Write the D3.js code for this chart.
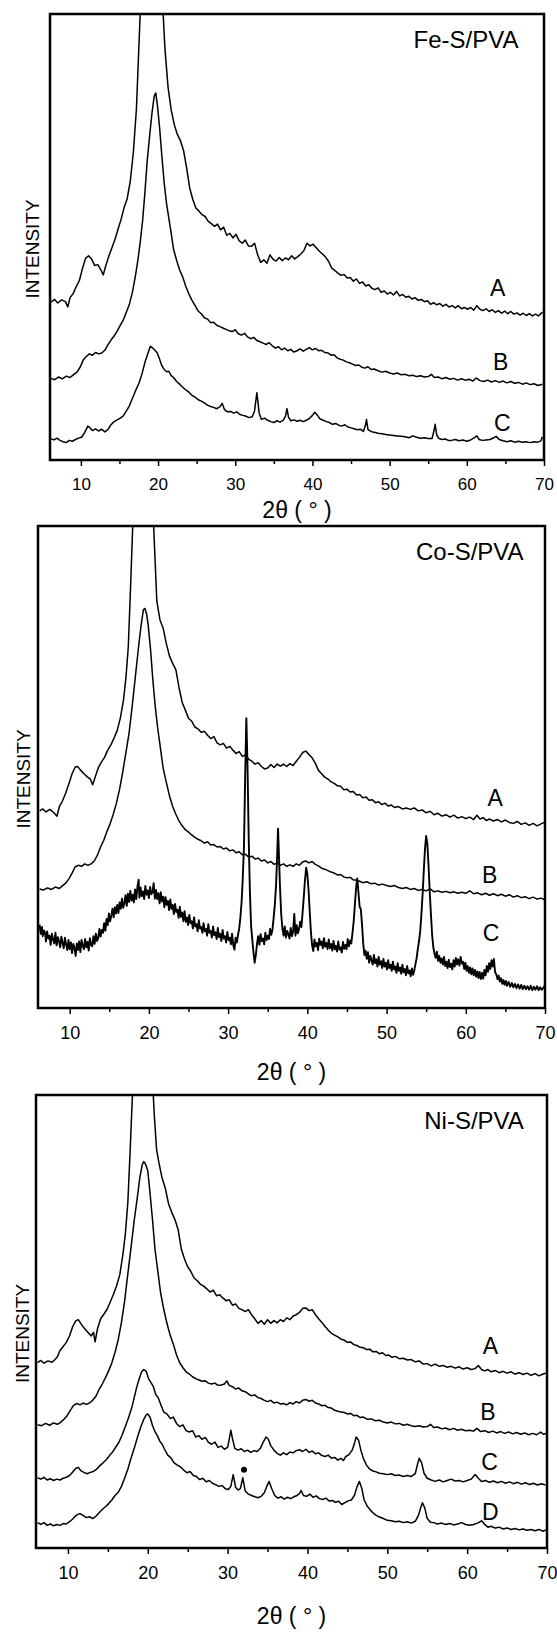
<!DOCTYPE html>
<html><head><meta charset="utf-8">
<script src="https://cdn.jsdelivr.net/npm/d3@7"></script>
<style>
html,body{margin:0;padding:0;background:#fff;}
svg{display:block;}
text{font-family:"Liberation Sans",Arial,sans-serif;fill:#000;}
</style></head>
<body>
<svg id="chart" width="557" height="1638"></svg>
<script>
// ---------- data (x = 2θ in degrees, y = intensity in % of frame height) ----------
const xTicks = [10, 20, 30, 40, 50, 60, 70];
const xMinorTicks = [15, 25, 35, 45, 55, 65];
const panelTitles = ["Fe-S/PVA", "Co-S/PVA", "Ni-S/PVA"];
const titleRightAt = [66.7, 67.3, 67.1]; // 2θ where each title ends
const xAxisLabel = "2θ ( ° )";
const yAxisLabel = "INTENSITY";

const feA = [[6.1,35.4],[6.6,36.0],[7.0,35.2],[7.5,35.9],[8.0,35.5],[8.3,34.3],[8.6,36.4],[9.0,37.3],[9.4,38.9],[9.8,40.2],[10.2,42.9],[10.6,45.2],[11.0,45.8],[11.4,45.0],[11.8,43.6],[12.2,43.8],[12.6,42.6],[12.9,41.5],[13.2,43.4],[13.6,45.6],[14.0,47.5],[14.4,49.4],[14.8,51.7],[15.2,53.9],[15.6,56.6],[16.0,58.6],[16.4,62.5],[16.8,69.0],[17.2,78.8],[17.5,92],[17.8,105],[18.3,118],[19.0,126],[19.6,127],[20.2,118],[20.6,102],[20.9,92],[21.3,83.5],[21.7,78.5],[22.1,75.2],[22.5,73.0],[22.9,71.6],[23.3,69.4],[23.7,65.5],[24.1,61.0],[24.5,58.4],[24.9,56.5],[25.3,55.8],[25.7,55.0],[26.1,54.6],[26.5,53.5],[26.9,53.0],[27.3,52.4],[27.7,52.9],[28.1,51.6],[28.5,52.2],[28.9,50.4],[29.3,50.8],[29.7,49.8],[30.1,50.6],[30.5,49.2],[30.9,48.6],[31.3,49.3],[31.7,48.0],[32.1,47.9],[32.5,48.6],[32.9,46.0],[33.3,44.3],[33.7,44.9],[34.1,44.1],[34.5,46.0],[34.9,45.0],[35.3,44.6],[35.7,45.4],[36.1,44.7],[36.5,45.3],[36.9,44.9],[37.3,45.8],[37.7,45.1],[38.1,45.6],[38.5,46.2],[38.9,47.0],[39.3,48.6],[39.7,48.0],[40.1,48.4],[40.5,47.6],[40.9,46.8],[41.3,46.2],[41.7,45.5],[42.1,44.5],[42.5,43.0],[42.9,42.5],[43.3,41.9],[43.7,41.4],[44.1,41.6],[44.5,40.8],[44.9,40.9],[45.3,40.1],[45.7,40.6],[46.1,39.6],[46.5,39.9],[46.9,39.0],[47.3,39.3],[47.7,38.5],[48.1,38.2],[48.5,38.6],[48.9,37.6],[49.3,37.9],[49.7,37.2],[50.1,37.6],[50.5,37.0],[50.9,37.8],[51.3,36.8],[51.7,37.1],[52.1,36.5],[52.5,36.7],[52.9,36.1],[53.3,36.4],[53.7,35.8],[54.1,36.0],[54.5,35.5],[54.9,35.7],[55.3,34.9],[55.7,35.3],[56.1,34.8],[56.5,35.1],[56.9,34.5],[57.3,34.9],[57.7,34.3],[58.1,34.6],[58.5,34.1],[58.9,34.6],[59.3,33.9],[59.7,34.2],[60.1,33.8],[60.5,34.2],[60.9,33.6],[61.3,34.6],[61.7,33.8],[62.1,33.5],[62.5,33.9],[62.9,33.3],[63.3,33.7],[63.7,33.1],[64.1,33.5],[64.5,32.9],[64.9,33.4],[65.3,32.8],[65.7,33.3],[66.1,32.7],[66.5,33.0],[66.9,32.5],[67.3,32.9],[67.7,32.4],[68.1,32.8],[68.5,32.3],[68.9,32.7],[69.3,32.3],[69.8,33.2]];
const feB = [[6.1,18.3],[6.6,18.0],[7.1,18.6],[7.6,18.2],[8.1,18.8],[8.6,18.5],[9.1,19.2],[9.5,19.7],[9.9,20.8],[10.3,22.4],[10.7,23.2],[11.1,23.8],[11.5,23.5],[11.9,24.1],[12.3,23.8],[12.7,24.0],[13.1,24.6],[13.5,25.8],[13.9,26.9],[14.3,27.8],[14.7,28.9],[15.1,30.2],[15.5,31.4],[15.9,33.2],[16.3,35.0],[16.7,37.8],[17.1,41.6],[17.4,45.0],[17.7,49.0],[18.0,53.7],[18.3,60.0],[18.6,67.2],[18.9,72.5],[19.2,77.6],[19.5,81.6],[19.7,82.3],[19.9,79.8],[20.2,74.5],[20.5,68.0],[20.8,62.0],[21.1,57.5],[21.4,54.2],[21.7,50.8],[22.0,47.3],[22.4,44.8],[22.8,42.6],[23.2,41.0],[23.6,38.9],[24.0,37.2],[24.4,35.8],[24.8,34.6],[25.2,33.4],[25.6,32.8],[26.0,31.9],[26.4,31.6],[26.8,30.8],[27.2,30.9],[27.6,30.2],[28.0,29.9],[28.4,29.6],[28.8,29.3],[29.2,29.0],[29.6,28.8],[30.0,29.2],[30.4,28.3],[30.8,28.0],[31.2,28.4],[31.6,27.6],[32.0,27.2],[32.4,27.5],[32.8,26.8],[33.2,26.5],[33.6,26.2],[34.0,25.9],[34.4,26.3],[34.8,25.6],[35.2,25.1],[35.6,25.4],[36.0,24.7],[36.4,25.1],[36.8,24.5],[37.2,24.8],[37.6,24.2],[38.0,24.5],[38.4,24.9],[38.8,24.4],[39.2,24.8],[39.6,25.2],[40.0,24.7],[40.4,25.0],[40.8,24.5],[41.2,24.6],[41.6,24.1],[42.0,24.0],[42.4,23.5],[42.8,23.6],[43.2,22.9],[43.6,22.6],[44.0,22.4],[44.4,22.0],[44.8,21.8],[45.2,21.5],[45.6,21.2],[46.0,21.3],[46.4,20.8],[46.8,20.6],[47.2,20.9],[47.6,20.3],[48.0,20.4],[48.5,20.0],[49.0,19.7],[49.5,19.9],[50.0,19.5],[50.5,19.3],[51.0,19.5],[51.5,19.1],[52.0,19.2],[52.5,18.9],[53.0,19.0],[53.5,18.7],[54.0,18.9],[54.5,18.6],[55.0,18.7],[55.4,19.2],[55.8,18.5],[56.3,18.6],[56.8,18.2],[57.3,18.5],[57.8,18.1],[58.3,18.3],[58.8,17.9],[59.3,18.2],[59.8,17.9],[60.3,18.1],[60.8,17.7],[61.2,18.4],[61.7,17.8],[62.2,17.6],[62.7,17.9],[63.2,17.5],[63.7,17.8],[64.2,17.4],[64.7,17.7],[65.2,17.3],[65.7,17.6],[66.2,17.2],[66.7,17.4],[67.2,17.0],[67.7,17.3],[68.2,16.9],[68.7,17.1],[69.2,16.7],[69.8,17.0]];
const feC = [[6.1,4.8],[6.5,4.5],[6.9,4.9],[7.3,4.4],[7.7,4.1],[8.1,3.9],[8.5,4.4],[8.9,4.2],[9.3,4.6],[9.7,4.9],[10.1,5.1],[10.5,6.2],[10.9,7.6],[11.2,7.2],[11.5,6.6],[11.9,7.0],[12.3,6.5],[12.7,6.9],[13.1,6.3],[13.5,6.8],[13.9,7.9],[14.3,8.6],[14.7,9.0],[15.1,9.4],[15.5,9.9],[15.9,11.0],[16.3,12.2],[16.7,13.9],[17.1,15.6],[17.5,17.1],[17.9,19.2],[18.3,21.9],[18.7,24.0],[19.0,25.5],[19.3,25.1],[19.6,24.6],[19.9,24.0],[20.2,22.6],[20.5,21.1],[20.8,20.3],[21.1,19.8],[21.4,19.9],[21.7,18.9],[22.0,18.5],[22.4,17.6],[22.8,17.0],[23.2,16.3],[23.6,15.7],[24.0,15.2],[24.4,14.5],[24.8,14.1],[25.2,13.5],[25.6,13.2],[26.0,12.8],[26.4,12.3],[26.8,12.0],[27.2,11.8],[27.6,11.5],[28.0,11.9],[28.3,12.7],[28.6,11.3],[29.0,10.8],[29.4,10.9],[29.8,10.5],[30.2,10.8],[30.6,10.2],[31.0,10.0],[31.4,9.8],[31.8,9.5],[32.2,9.7],[32.5,11.0],[32.8,15.1],[33.1,10.5],[33.4,9.1],[33.8,9.4],[34.2,8.9],[34.6,8.6],[35.0,8.4],[35.4,8.8],[35.8,8.5],[36.2,8.9],[36.5,9.8],[36.7,11.5],[36.9,9.6],[37.2,8.8],[37.6,9.0],[38.0,8.7],[38.4,8.9],[38.8,8.6],[39.2,8.9],[39.6,9.3],[40.0,10.0],[40.3,10.7],[40.7,9.9],[41.0,9.2],[41.4,8.9],[41.8,8.6],[42.2,8.4],[42.6,8.0],[43.0,8.2],[43.4,7.8],[43.8,7.6],[44.2,7.9],[44.6,7.4],[45.0,7.2],[45.4,7.0],[45.8,6.8],[46.2,6.9],[46.6,6.4],[46.9,8.0],[47.0,9.1],[47.2,6.8],[47.6,6.4],[48.0,6.2],[48.5,6.0],[49.0,5.9],[49.5,5.7],[50.0,5.6],[50.5,5.5],[51.0,5.4],[51.5,5.3],[52.0,5.2],[52.5,5.0],[53.0,5.4],[53.5,5.1],[54.0,4.9],[54.5,5.0],[55.0,4.8],[55.5,4.8],[55.8,7.0],[55.9,8.0],[56.1,5.6],[56.4,4.8],[56.8,4.6],[57.2,4.7],[57.6,4.4],[58.0,4.4],[58.5,4.6],[59.0,4.3],[59.5,4.5],[60.0,4.2],[60.5,4.5],[61.0,5.0],[61.3,5.4],[61.6,4.6],[62.0,4.4],[62.5,4.5],[63.0,4.6],[63.5,5.0],[63.8,5.3],[64.2,4.6],[64.7,4.3],[65.2,4.1],[65.7,4.3],[66.2,4.0],[66.7,4.2],[67.2,4.0],[67.7,4.1],[68.2,3.9],[68.7,4.1],[69.2,4.0],[69.6,4.3],[69.8,5.2]];

const coA = [[6.2,40.9],[6.6,41.3],[7.0,40.7],[7.5,41.2],[8.0,40.5],[8.4,39.8],[8.7,41.8],[9.1,43.0],[9.5,44.6],[9.9,46.5],[10.3,48.6],[10.7,50.0],[11.0,50.1],[11.4,49.3],[11.8,48.6],[12.2,48.0],[12.6,47.5],[12.9,46.3],[13.2,47.8],[13.6,49.8],[14.0,51.0],[14.4,52.0],[14.8,53.5],[15.2,54.6],[15.6,56.0],[16.0,57.6],[16.4,60.2],[16.8,64.0],[17.1,68.5],[17.4,75.0],[17.7,88],[18.0,102],[18.5,118],[19.2,125],[19.8,124],[20.3,112],[20.7,96],[21.0,84.4],[21.4,80.5],[21.8,78.8],[22.2,75.6],[22.6,73.0],[23.0,71.5],[23.4,70.2],[23.8,66.5],[24.2,63.4],[24.6,61.8],[25.0,60.1],[25.4,59.5],[25.8,58.3],[26.2,57.9],[26.6,57.2],[27.0,57.4],[27.4,56.6],[27.8,55.9],[28.2,56.3],[28.6,55.0],[29.0,54.6],[29.4,54.9],[29.8,53.9],[30.2,54.3],[30.6,53.5],[31.0,52.8],[31.4,53.2],[31.8,52.2],[32.2,52.5],[32.6,51.6],[33.0,51.2],[33.4,50.6],[33.8,50.9],[34.2,50.1],[34.6,49.6],[35.0,49.8],[35.4,50.5],[35.8,49.9],[36.2,50.6],[36.6,50.2],[37.0,50.6],[37.4,50.1],[37.8,50.7],[38.2,50.3],[38.6,51.2],[39.0,52.0],[39.4,53.0],[39.8,53.3],[40.2,52.6],[40.6,51.9],[41.0,50.8],[41.4,49.3],[41.8,48.6],[42.2,47.9],[42.6,47.5],[43.0,46.9],[43.4,46.6],[43.8,46.1],[44.2,46.0],[44.6,45.3],[45.0,45.4],[45.4,44.8],[45.8,44.9],[46.2,44.2],[46.6,44.3],[47.0,43.6],[47.4,43.8],[47.8,43.1],[48.2,43.2],[48.6,42.6],[49.0,42.8],[49.4,42.2],[49.8,42.5],[50.2,41.9],[50.6,42.1],[51.0,41.6],[51.5,41.8],[52.0,41.3],[52.5,41.5],[53.0,41.2],[53.5,41.5],[54.0,40.9],[54.5,41.1],[55.0,40.5],[55.5,40.8],[56.0,40.1],[56.5,40.4],[57.0,39.8],[57.5,40.1],[58.0,39.6],[58.5,40.0],[59.0,39.4],[59.5,39.7],[60.0,39.3],[60.5,39.6],[61.0,39.1],[61.4,40.0],[61.8,39.2],[62.2,39.5],[62.6,38.9],[63.0,39.2],[63.5,38.8],[64.0,39.1],[64.5,38.6],[65.0,39.0],[65.5,38.5],[66.0,38.3],[66.5,38.7],[67.0,38.1],[67.5,38.4],[68.0,37.9],[68.5,38.3],[69.0,37.8],[69.5,38.2],[69.9,38.5]];
const coB = [[6.2,24.7],[6.7,24.5],[7.2,24.9],[7.7,24.6],[8.2,25.1],[8.7,24.8],[9.1,25.4],[9.5,25.9],[9.9,26.8],[10.3,28.0],[10.7,29.3],[11.1,29.6],[11.5,29.4],[11.9,29.9],[12.3,29.6],[12.7,29.9],[13.1,30.5],[13.5,31.7],[13.9,33.4],[14.3,34.8],[14.7,36.6],[15.1,38.2],[15.5,40.2],[15.9,42.5],[16.3,45.4],[16.7,49.0],[17.1,53.0],[17.5,57.1],[17.9,62.8],[18.3,68.9],[18.7,75.0],[19.0,79.2],[19.3,82.6],[19.5,82.9],[19.7,81.8],[19.9,79.6],[20.2,74.5],[20.5,68.0],[20.8,62.5],[21.1,58.2],[21.4,54.6],[21.8,49.7],[22.2,46.8],[22.6,44.0],[23.0,41.8],[23.4,40.2],[23.8,38.8],[24.2,37.8],[24.6,37.0],[25.0,36.5],[25.4,35.9],[25.8,35.4],[26.2,35.0],[26.6,34.7],[27.0,34.2],[27.4,34.5],[27.8,33.8],[28.2,33.9],[28.6,33.4],[29.0,33.5],[29.4,33.0],[29.8,33.2],[30.2,32.6],[30.6,32.8],[31.0,32.2],[31.4,32.4],[31.8,31.8],[32.2,31.9],[32.6,31.3],[33.0,31.5],[33.4,30.9],[33.8,31.1],[34.2,30.5],[34.6,30.7],[35.0,30.1],[35.4,30.4],[35.8,29.8],[36.2,30.1],[36.6,29.6],[37.0,29.9],[37.4,29.4],[37.8,29.7],[38.2,29.4],[38.6,29.9],[39.0,29.6],[39.4,30.3],[39.8,30.5],[40.2,30.1],[40.6,30.4],[41.0,29.8],[41.4,29.5],[41.8,29.0],[42.2,28.8],[42.6,28.5],[43.0,28.2],[43.4,28.0],[43.8,27.6],[44.2,27.7],[44.6,27.2],[45.0,27.0],[45.4,27.1],[45.8,26.6],[46.2,26.5],[46.6,26.3],[47.0,26.0],[47.5,26.2],[48.0,25.8],[48.5,25.9],[49.0,25.5],[49.5,25.7],[50.0,25.4],[50.5,25.2],[51.0,25.4],[51.5,25.0],[52.0,24.8],[52.5,25.0],[53.0,24.6],[53.5,24.8],[54.0,24.4],[54.5,24.6],[55.0,24.3],[55.5,24.7],[56.0,24.1],[56.5,24.3],[57.0,24.0],[57.5,24.2],[58.0,23.9],[58.5,24.1],[59.0,23.8],[59.5,24.0],[60.0,23.8],[60.5,24.3],[61.0,23.7],[61.5,23.9],[62.0,23.5],[62.5,23.8],[63.0,23.4],[63.5,23.7],[64.0,23.3],[64.5,23.6],[65.0,23.2],[65.5,23.5],[66.0,23.0],[66.5,23.3],[67.0,22.9],[67.5,23.1],[68.0,22.7],[68.5,23.0],[69.0,22.6],[69.5,22.8],[69.9,22.5]];
const coC = [[6.2,17.3],[6.35,15.4],[6.5,16.8],[6.6,14.9],[6.75,16.1],[6.9,15.5],[7.0,13.8],[7.15,15.9],[7.3,14.4],[7.45,15.0],[7.6,13.1],[7.75,15.4],[7.9,14.2],[8.05,13.4],[8.2,15.6],[8.35,13.0],[8.5,14.7],[8.65,13.9],[8.8,12.6],[8.95,14.8],[9.1,13.5],[9.25,12.4],[9.4,14.6],[9.55,13.2],[9.7,12.0],[9.85,14.1],[10.0,12.2],[10.15,13.6],[10.3,11.4],[10.45,13.3],[10.6,12.5],[10.75,10.8],[10.9,13.4],[11.05,12.0],[11.2,13.8],[11.35,11.6],[11.5,14.1],[11.65,12.9],[11.8,12.2],[11.95,14.3],[12.1,12.6],[12.25,13.7],[12.4,11.9],[12.55,14.5],[12.7,13.1],[12.85,12.8],[13.0,14.9],[13.15,13.3],[13.3,15.4],[13.45,13.9],[13.6,14.5],[13.75,16.4],[13.9,14.8],[14.05,16.2],[14.2,15.6],[14.35,17.6],[14.5,16.0],[14.65,18.5],[14.8,17.2],[14.95,19.6],[15.1,18.0],[15.25,19.1],[15.4,20.6],[15.55,18.8],[15.7,20.9],[15.85,19.6],[16.0,21.4],[16.15,19.7],[16.3,21.9],[16.45,20.6],[16.6,22.7],[16.75,20.8],[16.9,21.8],[17.05,23.4],[17.2,21.2],[17.35,23.7],[17.5,22.0],[17.65,24.3],[17.8,22.3],[17.95,23.5],[18.1,21.9],[18.25,24.6],[18.4,22.6],[18.55,25.1],[18.7,26.6],[18.8,22.9],[18.95,25.0],[19.1,23.2],[19.25,24.2],[19.4,22.6],[19.55,25.3],[19.7,23.5],[19.85,24.4],[20.0,22.8],[20.15,25.1],[20.3,23.6],[20.45,24.0],[20.6,25.9],[20.75,22.7],[20.9,24.5],[21.05,22.6],[21.2,23.8],[21.35,21.7],[21.5,24.0],[21.65,22.1],[21.8,23.1],[21.95,20.9],[22.1,23.0],[22.25,21.4],[22.4,22.2],[22.55,20.3],[22.7,22.5],[22.85,20.6],[23.0,21.4],[23.15,19.5],[23.3,21.6],[23.45,19.9],[23.6,20.4],[23.75,18.7],[23.9,21.0],[24.05,18.9],[24.2,19.8],[24.35,18.0],[24.5,20.1],[24.65,17.9],[24.8,18.8],[24.95,17.2],[25.1,19.3],[25.25,17.6],[25.4,18.0],[25.55,16.5],[25.7,18.8],[25.85,16.9],[26.0,17.4],[26.15,15.9],[26.3,18.2],[26.45,16.5],[26.6,16.8],[26.75,15.6],[26.9,17.6],[27.05,15.9],[27.2,16.4],[27.35,15.0],[27.5,17.4],[27.65,15.6],[27.8,16.0],[27.95,14.6],[28.1,16.9],[28.25,15.1],[28.4,15.7],[28.55,14.3],[28.7,16.6],[28.85,14.7],[29.0,15.4],[29.15,13.9],[29.3,16.2],[29.45,14.4],[29.6,14.9],[29.75,13.6],[29.9,15.8],[30.05,14.1],[30.2,14.6],[30.35,13.2],[30.5,15.4],[30.65,13.0],[30.8,12.1],[30.95,14.6],[31.1,13.6],[31.25,15.2],[31.4,16.5],[31.55,18.8],[31.7,22.0],[31.85,27.0],[32.0,33.5],[32.15,48.0],[32.3,60.1],[32.45,50.0],[32.6,35.0],[32.75,24.0],[32.9,17.0],[33.05,14.2],[33.2,11.6],[33.35,9.4],[33.5,11.0],[33.65,13.4],[33.8,14.9],[33.95,13.1],[34.1,15.3],[34.25,13.9],[34.4,14.4],[34.55,13.2],[34.7,15.6],[34.85,14.1],[35.0,15.0],[35.15,14.3],[35.3,16.4],[35.45,15.2],[35.6,16.3],[35.75,18.8],[35.9,21.5],[36.05,25.5],[36.2,32.0],[36.3,37.2],[36.4,32.5],[36.55,25.0],[36.7,19.5],[36.85,16.5],[37.0,15.0],[37.15,16.9],[37.3,14.6],[37.45,16.0],[37.6,15.3],[37.75,14.4],[37.9,16.6],[38.05,14.9],[38.2,15.8],[38.35,19.5],[38.5,15.0],[38.65,17.2],[38.8,15.5],[38.95,16.4],[39.1,17.9],[39.25,16.8],[39.4,19.8],[39.55,23.0],[39.7,26.5],[39.85,29.1],[40.0,27.8],[40.15,24.5],[40.3,20.0],[40.45,15.8],[40.6,13.0],[40.75,11.8],[40.9,14.2],[41.05,12.8],[41.2,13.5],[41.35,12.0],[41.5,14.4],[41.65,13.1],[41.8,13.8],[41.95,12.4],[42.1,14.5],[42.25,12.7],[42.4,13.5],[42.55,12.2],[42.7,14.2],[42.85,12.4],[43.0,13.3],[43.15,11.9],[43.3,13.9],[43.45,12.2],[43.6,12.9],[43.75,11.7],[43.9,13.8],[44.05,12.1],[44.2,12.6],[44.35,11.5],[44.5,13.7],[44.65,12.3],[44.8,13.1],[44.95,12.2],[45.1,14.3],[45.25,12.8],[45.4,14.0],[45.55,13.4],[45.7,15.6],[45.85,17.9],[46.0,21.5],[46.15,24.8],[46.3,26.9],[46.45,24.0],[46.6,21.0],[46.75,20.5],[46.9,17.4],[47.05,13.5],[47.2,11.0],[47.35,11.9],[47.5,10.2],[47.65,11.6],[47.8,9.4],[47.95,10.8],[48.1,9.9],[48.25,9.0],[48.4,11.0],[48.55,9.3],[48.7,10.1],[48.85,8.6],[49.0,10.6],[49.15,9.0],[49.3,9.7],[49.45,8.3],[49.6,10.2],[49.75,8.6],[49.9,9.4],[50.05,8.0],[50.2,9.9],[50.35,8.3],[50.5,9.0],[50.65,7.7],[50.8,9.6],[50.95,8.0],[51.1,8.6],[51.25,7.3],[51.4,9.3],[51.55,7.7],[51.7,8.4],[51.85,7.1],[52.0,9.0],[52.15,7.4],[52.3,8.1],[52.45,6.8],[52.6,8.7],[52.75,7.2],[52.9,7.8],[53.05,6.6],[53.2,8.2],[53.35,6.9],[53.5,7.8],[53.65,9.1],[53.8,10.4],[53.95,12.3],[54.1,13.9],[54.25,16.0],[54.4,19.5],[54.55,23.6],[54.7,28.5],[54.85,33.0],[55.0,35.7],[55.15,34.0],[55.3,29.5],[55.45,24.0],[55.6,19.5],[55.75,15.2],[55.9,12.6],[56.05,11.3],[56.2,10.4],[56.35,11.7],[56.5,9.8],[56.65,10.8],[56.8,9.4],[56.95,10.3],[57.1,9.0],[57.25,10.6],[57.4,8.7],[57.55,9.6],[57.7,8.3],[57.85,10.0],[58.0,8.5],[58.15,9.2],[58.3,8.0],[58.45,9.9],[58.6,8.6],[58.75,10.4],[58.9,9.0],[59.05,10.1],[59.2,8.8],[59.35,10.6],[59.5,9.2],[59.65,9.6],[59.8,8.1],[59.95,9.4],[60.1,7.7],[60.25,8.7],[60.4,7.3],[60.55,8.4],[60.7,7.0],[60.85,8.2],[61.0,6.8],[61.15,7.9],[61.3,6.5],[61.45,7.6],[61.6,6.2],[61.75,7.5],[61.9,6.0],[62.05,7.3],[62.2,6.1],[62.35,7.9],[62.5,6.8],[62.65,8.7],[62.8,7.5],[62.95,9.3],[63.1,8.1],[63.25,9.9],[63.4,8.6],[63.55,10.2],[63.7,7.4],[63.85,7.0],[64.0,6.0],[64.15,6.7],[64.3,5.5],[64.45,6.2],[64.6,5.0],[64.75,5.8],[64.9,4.8],[65.05,5.6],[65.2,4.6],[65.4,5.4],[65.6,4.4],[65.8,5.2],[66.0,4.3],[66.2,5.0],[66.4,4.1],[66.6,4.9],[66.8,4.0],[67.0,4.8],[67.2,3.9],[67.4,4.6],[67.6,3.9],[67.8,4.5],[68.0,3.8],[68.2,4.6],[68.4,3.7],[68.6,4.4],[68.8,3.8],[69.0,4.5],[69.2,3.7],[69.4,4.3],[69.6,3.8],[69.8,4.2],[69.95,4.6]];

const niA = [[6.2,40.9],[6.6,41.4],[7.0,40.8],[7.5,41.3],[8.0,41.0],[8.4,41.6],[8.7,42.3],[9.0,43.6],[9.4,44.5],[9.8,45.4],[10.2,46.8],[10.6,48.9],[11.0,50.2],[11.3,50.4],[11.6,49.6],[12.0,48.6],[12.3,48.0],[12.6,47.4],[12.9,46.8],[13.2,47.6],[13.4,45.5],[13.7,48.4],[14.1,50.6],[14.5,51.6],[14.9,52.7],[15.3,54.3],[15.7,56.0],[16.1,57.9],[16.5,60.4],[16.9,65.0],[17.2,69.5],[17.5,76.2],[17.8,88],[18.1,101],[18.6,117],[19.3,125],[19.9,123],[20.4,110],[20.8,96],[21.1,88],[21.4,85.0],[21.8,81.6],[22.2,79.4],[22.6,76.0],[23.0,74.1],[23.4,72.5],[23.8,70.3],[24.2,66.0],[24.6,63.8],[25.0,62.1],[25.4,61.0],[25.8,59.6],[26.2,59.0],[26.6,58.2],[27.0,57.8],[27.4,57.2],[27.8,56.5],[28.2,56.9],[28.6,55.7],[29.0,55.9],[29.4,55.2],[29.8,54.6],[30.2,54.8],[30.6,53.6],[31.0,53.9],[31.4,52.9],[31.8,52.6],[32.2,52.2],[32.6,52.6],[33.0,51.5],[33.4,50.6],[33.8,49.6],[34.2,50.2],[34.6,49.4],[35.0,50.4],[35.4,49.6],[35.8,50.2],[36.2,49.7],[36.6,50.4],[37.0,50.0],[37.4,50.8],[37.8,50.4],[38.2,51.2],[38.6,51.5],[39.0,52.0],[39.4,52.9],[39.8,53.0],[40.2,52.4],[40.6,52.6],[41.0,51.5],[41.4,50.6],[41.8,49.8],[42.2,48.9],[42.6,48.1],[43.0,47.4],[43.4,47.0],[43.8,46.6],[44.2,46.1],[44.6,45.9],[45.0,45.4],[45.4,45.5],[45.8,44.9],[46.2,44.7],[46.6,44.3],[47.0,44.2],[47.4,43.8],[47.8,43.9],[48.2,43.3],[48.6,43.4],[49.0,42.9],[49.4,43.1],[49.8,42.5],[50.2,42.6],[50.6,42.1],[51.0,42.3],[51.5,41.8],[52.0,41.9],[52.5,41.5],[53.0,41.6],[53.5,41.1],[54.0,41.3],[54.5,40.6],[55.0,40.7],[55.5,40.2],[56.0,40.6],[56.5,40.1],[57.0,40.3],[57.5,39.9],[58.0,40.1],[58.5,39.7],[59.0,40.0],[59.5,39.5],[60.0,39.8],[60.5,39.4],[61.0,39.6],[61.4,40.3],[61.8,39.4],[62.2,39.1],[62.6,39.4],[63.0,38.9],[63.5,39.2],[64.0,38.7],[64.5,39.0],[65.0,38.6],[65.5,38.9],[66.0,38.4],[66.5,38.7],[67.0,38.3],[67.5,38.6],[68.0,38.1],[68.5,38.5],[69.0,38.0],[69.5,38.4],[69.9,38.6]];
const niB = [[6.2,27.2],[6.7,27.0],[7.2,27.5],[7.7,27.1],[8.2,27.6],[8.7,27.3],[9.1,27.8],[9.5,28.4],[9.9,29.2],[10.3,30.4],[10.7,31.5],[11.1,31.9],[11.5,31.6],[11.9,32.0],[12.3,31.7],[12.7,32.0],[13.1,32.6],[13.5,33.5],[13.9,35.0],[14.3,36.2],[14.7,37.6],[15.1,39.1],[15.5,40.9],[15.9,43.2],[16.3,46.0],[16.7,49.8],[17.1,54.5],[17.5,60.5],[17.9,66.3],[18.3,72.3],[18.7,77.5],[19.0,81.7],[19.3,84.6],[19.5,85.3],[19.7,84.8],[20.0,83.3],[20.3,78.0],[20.6,72.3],[20.9,66.0],[21.3,60.5],[21.6,56.4],[22.0,52.7],[22.4,49.6],[22.8,47.0],[23.2,45.0],[23.6,42.6],[24.0,40.9],[24.4,39.8],[24.8,38.9],[25.2,38.4],[25.6,37.8],[26.0,37.4],[26.4,37.1],[26.8,36.8],[27.2,36.9],[27.6,36.4],[28.0,36.2],[28.4,36.4],[28.8,35.9],[29.2,36.0],[29.6,36.2],[29.9,36.9],[30.2,35.9],[30.6,35.6],[31.0,35.1],[31.4,35.3],[31.8,34.7],[32.2,34.5],[32.6,34.0],[33.0,33.6],[33.4,33.8],[33.8,33.2],[34.2,33.0],[34.6,32.6],[35.0,32.3],[35.4,32.6],[35.8,32.0],[36.2,32.2],[36.6,31.8],[37.0,31.9],[37.4,31.6],[37.8,32.1],[38.2,31.8],[38.6,32.3],[39.0,32.0],[39.4,32.6],[39.8,32.8],[40.2,32.4],[40.6,32.6],[41.0,32.0],[41.4,31.8],[41.8,31.4],[42.2,31.5],[42.6,31.0],[43.0,30.9],[43.4,30.4],[43.8,30.2],[44.2,30.0],[44.6,29.9],[45.0,29.6],[45.4,29.7],[45.8,29.2],[46.2,29.3],[46.6,28.8],[47.0,28.9],[47.5,28.4],[48.0,28.5],[48.5,28.1],[49.0,28.2],[49.5,27.8],[50.0,27.6],[50.5,27.8],[51.0,27.4],[51.5,27.5],[52.0,27.1],[52.5,27.3],[53.0,27.0],[53.5,26.8],[54.0,27.0],[54.5,26.7],[55.0,26.8],[55.4,27.3],[55.8,26.6],[56.3,26.7],[56.8,26.3],[57.3,26.5],[57.8,26.1],[58.3,26.4],[58.8,26.0],[59.3,26.2],[59.8,25.9],[60.3,26.0],[60.8,25.8],[61.2,26.4],[61.7,25.7],[62.2,25.9],[62.7,25.5],[63.2,25.8],[63.7,25.4],[64.2,25.7],[64.7,25.3],[65.2,25.6],[65.7,25.2],[66.2,25.5],[66.7,25.1],[67.2,25.4],[67.7,25.0],[68.2,25.3],[68.7,25.0],[69.2,25.6],[69.6,25.1],[69.9,25.3]];
const niC = [[6.2,15.5],[6.6,15.2],[7.0,15.6],[7.4,15.0],[7.8,15.3],[8.2,14.9],[8.6,15.2],[9.0,15.0],[9.4,15.4],[9.8,15.6],[10.2,16.0],[10.6,16.8],[11.0,17.6],[11.3,17.8],[11.6,17.1],[12.0,16.7],[12.4,16.4],[12.8,16.7],[13.2,16.9],[13.6,17.4],[14.0,18.2],[14.4,18.8],[14.8,19.5],[15.2,20.4],[15.6,21.2],[16.0,22.3],[16.4,23.4],[16.8,25.0],[17.2,26.9],[17.6,28.8],[18.0,31.0],[18.3,33.2],[18.6,35.4],[18.9,37.2],[19.2,38.8],[19.5,39.4],[19.8,39.0],[20.1,37.4],[20.4,36.5],[20.7,35.6],[21.0,33.9],[21.3,33.2],[21.6,31.8],[22.0,30.0],[22.4,29.6],[22.8,28.6],[23.2,28.9],[23.6,27.5],[24.0,26.8],[24.4,27.2],[24.8,25.9],[25.2,25.6],[25.6,25.9],[26.0,24.5],[26.4,24.8],[26.8,24.0],[27.2,24.4],[27.6,23.3],[28.0,22.9],[28.4,23.4],[28.8,22.2],[29.2,22.5],[29.6,21.8],[30.0,22.2],[30.2,24.0],[30.4,26.0],[30.6,24.2],[30.9,22.0],[31.3,21.6],[31.7,21.9],[32.1,21.3],[32.5,21.6],[32.9,21.1],[33.3,21.5],[33.7,21.3],[34.1,22.0],[34.5,23.5],[34.8,24.5],[35.1,24.0],[35.4,22.6],[35.8,21.6],[36.2,20.9],[36.6,20.5],[37.0,21.0],[37.4,20.6],[37.8,21.2],[38.2,21.0],[38.6,21.5],[39.0,21.7],[39.4,21.3],[39.8,21.8],[40.2,21.1],[40.6,21.4],[41.0,20.8],[41.4,21.0],[41.8,20.4],[42.2,20.2],[42.6,20.5],[43.0,19.8],[43.4,20.0],[43.8,19.4],[44.2,19.8],[44.5,19.3],[44.8,20.2],[45.2,20.6],[45.6,21.6],[45.9,23.2],[46.1,24.5],[46.4,23.8],[46.7,21.5],[47.0,19.8],[47.4,18.3],[47.8,17.4],[48.2,17.0],[48.6,16.8],[49.0,16.5],[49.5,16.4],[50.0,16.2],[50.5,16.4],[51.0,16.0],[51.5,16.1],[52.0,15.8],[52.5,16.0],[53.0,15.8],[53.5,16.4],[53.8,18.6],[54.0,19.8],[54.3,18.8],[54.6,16.5],[55.0,15.4],[55.5,15.0],[56.0,14.7],[56.5,15.0],[57.0,14.6],[57.5,14.9],[58.0,15.2],[58.5,14.8],[59.0,14.9],[59.5,14.6],[60.0,14.9],[60.5,15.2],[61.0,16.2],[61.4,15.4],[61.8,14.7],[62.3,14.9],[62.8,14.5],[63.3,14.8],[63.8,14.4],[64.3,14.7],[64.8,14.3],[65.3,14.6],[65.8,14.2],[66.3,14.5],[66.8,14.1],[67.3,14.4],[67.8,14.0],[68.3,14.3],[68.8,13.9],[69.3,14.2],[69.8,13.9]];
const niD = [[6.2,5.6],[6.6,5.2],[7.0,5.6],[7.4,5.0],[7.8,5.3],[8.2,4.9],[8.6,5.2],[9.0,5.0],[9.4,5.4],[9.8,5.3],[10.2,5.8],[10.6,6.4],[11.0,7.2],[11.5,7.6],[11.9,7.2],[12.3,6.7],[12.7,6.9],[13.1,6.5],[13.5,7.0],[13.9,7.8],[14.3,8.5],[14.7,9.1],[15.1,9.8],[15.5,10.6],[15.9,11.6],[16.3,12.3],[16.7,13.6],[17.1,15.4],[17.5,17.4],[17.9,19.8],[18.3,22.0],[18.7,24.4],[19.1,26.6],[19.5,28.4],[19.8,29.4],[20.0,29.6],[20.3,28.8],[20.6,27.0],[20.9,25.7],[21.2,24.8],[21.5,23.6],[21.8,22.9],[22.1,21.8],[22.5,20.5],[22.9,19.9],[23.3,18.8],[23.7,18.3],[24.1,17.9],[24.5,17.2],[24.9,16.6],[25.3,16.9],[25.7,16.0],[26.1,15.8],[26.5,15.1],[26.9,15.4],[27.3,14.6],[27.7,14.9],[28.1,14.3],[28.5,14.0],[28.9,13.6],[29.3,13.8],[29.7,13.1],[30.1,12.9],[30.4,13.6],[30.7,16.2],[31.0,13.4],[31.3,12.8],[31.6,13.1],[31.9,15.5],[32.2,12.6],[32.6,11.9],[33.0,11.6],[33.4,11.3],[33.8,11.1],[34.2,11.4],[34.6,12.2],[34.9,13.6],[35.2,14.7],[35.5,13.2],[35.9,11.6],[36.3,11.0],[36.7,11.3],[37.1,10.8],[37.5,11.2],[37.9,10.9],[38.3,11.3],[38.7,11.6],[39.0,12.0],[39.2,12.7],[39.5,11.6],[39.9,11.4],[40.3,11.9],[40.7,11.2],[41.1,11.5],[41.5,10.9],[41.9,10.7],[42.3,11.0],[42.7,10.4],[43.1,10.5],[43.5,10.1],[43.9,10.3],[44.3,9.6],[44.7,10.0],[45.1,10.4],[45.5,10.6],[45.9,11.7],[46.2,13.5],[46.5,14.7],[46.8,13.2],[47.1,10.6],[47.5,9.2],[47.9,8.3],[48.3,7.6],[48.7,7.1],[49.1,6.8],[49.5,6.5],[50.0,6.1],[50.5,6.0],[51.0,5.8],[51.5,5.9],[52.0,5.6],[52.5,5.8],[53.0,5.5],[53.5,5.9],[53.9,7.2],[54.2,9.0],[54.4,10.0],[54.7,8.8],[55.0,6.5],[55.4,5.7],[55.8,5.6],[56.3,5.3],[56.8,5.5],[57.3,5.2],[57.8,5.4],[58.3,5.1],[58.8,5.3],[59.3,5.6],[59.8,5.2],[60.3,5.0],[60.8,5.2],[61.3,5.5],[61.8,6.0],[62.2,5.2],[62.6,4.6],[63.0,4.8],[63.5,4.4],[64.0,4.6],[64.5,4.2],[65.0,4.4],[65.5,4.1],[66.0,4.3],[66.5,4.0],[67.0,4.2],[67.5,3.9],[68.0,4.1],[68.5,3.8],[69.0,4.1],[69.5,3.7],[69.9,4.0]];

// curve labels: [letter, 2θ, intensity]
const feLabels = [["A", 64.0, 38.6], ["B", 64.4, 21.9], ["C", 64.6, 8.4]];
const coLabels = [["A", 63.7, 43.5], ["B", 63.0, 27.6], ["C", 63.2, 15.5]];
const niLabels = [["A", 62.9, 44.5], ["B", 62.6, 30.0], ["C", 62.8, 19.0], ["D", 62.9, 8.0]];
// marked reflection (filled dot) in Ni-S/PVA curve D: [2θ, intensity]
const niMarker = [[32.05, 17.3]];

// ---------- layout ----------
const layout = [
  {left: 50, right: 544, top: 14, bottom: 460, tickFont: 17, xLabelDy: 58, yLabelDx: -11, curves: [feA, feB, feC], labels: feLabels, widths: [1.5, 1.5, 1.5], marker: []},
  {left: 38, right: 545, top: 526, bottom: 1008, tickFont: 18, xLabelDy: 72, yLabelDx: -8, curves: [coA, coB, coC], labels: coLabels, widths: [1.5, 1.5, 1.9], marker: []},
  {left: 36, right: 547, top: 1095, bottom: 1548, tickFont: 18, xLabelDy: 76, yLabelDx: -7, curves: [niA, niB, niC, niD], labels: niLabels, widths: [1.5, 1.5, 1.5, 1.5], marker: niMarker}
];

const svg = d3.select("#chart");

layout.forEach((p, i) => {
  const x = d3.scaleLinear().domain([6, 70]).range([p.left, p.right]);
  const y = d3.scaleLinear().domain([0, 100]).range([p.bottom, p.top]);
  const g = svg.append("g");
  const clipId = "clip" + i;
  svg.append("clipPath").attr("id", clipId).append("rect")
    .attr("x", p.left).attr("y", p.top).attr("width", p.right - p.left).attr("height", p.bottom - p.top);

  const line = d3.line().x(d => x(d[0])).y(d => y(d[1]));
  p.curves.forEach((c, k) => {
    g.append("path").datum(c).attr("d", line)
      .attr("fill", "none").attr("stroke", "#000")
      .attr("stroke-width", p.widths[k]).attr("stroke-linejoin", "round")
      .attr("clip-path", `url(#${clipId})`);
  });

  g.selectAll(".mk").data(p.marker).join("circle")
    .attr("cx", d => x(d[0])).attr("cy", d => y(d[1])).attr("r", 3).attr("fill", "#000");

  // frame
  g.append("rect").attr("x", p.left).attr("y", p.top)
    .attr("width", p.right - p.left).attr("height", p.bottom - p.top)
    .attr("fill", "none").attr("stroke", "#000").attr("stroke-width", 2.5);

  // bottom axis: major + minor ticks
  const axis = d3.axisBottom(x).tickValues(xTicks).tickSize(6).tickPadding(12).tickFormat(d3.format("d"));
  const ax = g.append("g").attr("transform", `translate(0,${p.bottom})`).call(axis);
  ax.select(".domain").remove();
  ax.selectAll("line").attr("stroke-width", 1.5);
  ax.selectAll("text").attr("font-size", p.tickFont).attr("font-family", "Liberation Sans, Arial, sans-serif").attr("fill", "#000");
  const axm = g.append("g").attr("transform", `translate(0,${p.bottom})`)
    .call(d3.axisBottom(x).tickValues(xMinorTicks).tickSize(4).tickFormat(""));
  axm.select(".domain").remove();
  axm.selectAll("line").attr("stroke-width", 1.5);

  // axis titles
  g.append("text").attr("x", (p.left + p.right) / 2).attr("y", p.bottom + p.xLabelDy)
    .attr("text-anchor", "middle").attr("font-size", 23).text(xAxisLabel);
  g.append("text").attr("transform", `translate(${p.left + p.yLabelDx},${(p.top + p.bottom) / 2 + 12}) rotate(-90)`)
    .attr("text-anchor", "middle").attr("font-size", 19).text(yAxisLabel);

  // panel title
  g.append("text").attr("x", x(titleRightAt[i])).attr("y", p.top + 34)
    .attr("text-anchor", "end").attr("font-size", 24).text(panelTitles[i]);

  // curve letters
  g.selectAll(".lbl").data(p.labels).join("text")
    .attr("x", d => x(d[1])).attr("y", d => y(d[2]))
    .attr("text-anchor", "middle").attr("dominant-baseline", "central")
    .attr("font-size", 23).text(d => d[0]);
});
</script>
</body></html>
